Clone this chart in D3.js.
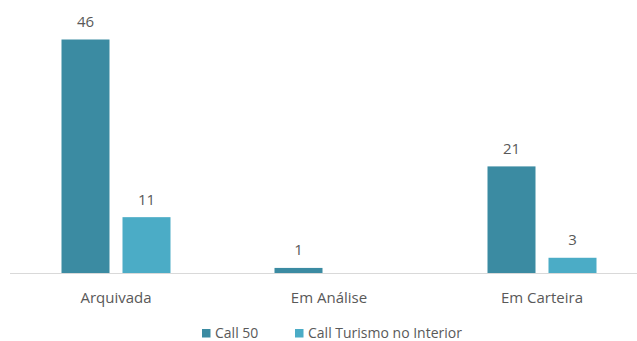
<!DOCTYPE html>
<html lang="pt">
<head>
<meta charset="UTF-8">
<title>Call 50 vs Call Turismo no Interior</title>
<script src="https://d3js.org/d3.v7.min.js"></script>
<style>
  body { margin: 0; background: #fff; }
  svg { display: block; font-family: "Open Sans", sans-serif; }
  .lbl { fill: #595959; }
</style>
</head>
<body>
<svg id="chart" width="637" height="341"></svg>
<script>
const categories = ["Arquivada", "Em Análise", "Em Carteira"];
const seriesNames = ["Call 50", "Call Turismo no Interior"];
const call50 = [46, 1, 21];
const callTurismo = [11, null, 3];
const colors = ["#3B8BA2", "#4BACC6"];

const width = 637, height = 341;
const baseY = 273;
const svg = d3.select("#chart");

// categories: band step 213, first centre at 116
const x0 = d3.scaleBand().domain(categories).range([9.5, 648.5]).padding(0);
const x1 = d3.scaleBand().domain(seriesNames)
    .range([52, 161]).paddingInner(13 / 61).paddingOuter(0);
const y = d3.scaleLinear().domain([0, 46]).range([baseY, 39.5]);

const rows = categories.map((c, i) => ({
    cat: c,
    vals: [call50[i], callTurismo[i]]
}));

const g = svg.selectAll(".grp")
    .data(rows)
    .join("g")
    .attr("class", "grp")
    .attr("transform", d => `translate(${x0(d.cat)},0)`);

const bars = g.selectAll("g.bar")
    .data(d => d.vals.map((v, j) => ({ s: seriesNames[j], v, j })).filter(d => d.v != null))
    .join("g")
    .attr("class", "bar");

bars.append("rect")
    .attr("x", d => x1(d.s))
    .attr("y", d => y(d.v))
    .attr("width", x1.bandwidth())
    .attr("height", d => baseY - y(d.v))
    .attr("fill", d => colors[d.j]);

bars.append("text")
    .attr("class", "lbl")
    .attr("x", d => x1(d.s) + x1.bandwidth() / 2)
    .attr("y", d => y(d.v) - 12.5)
    .attr("text-anchor", "middle")
    .attr("font-size", "15px")
    .text(d => d.v);

// baseline
svg.append("line")
    .attr("x1", 10).attr("x2", 637)
    .attr("y1", baseY + 0.5).attr("y2", baseY + 0.5)
    .attr("stroke", "#d9d9d9").attr("stroke-width", 1);

// category labels
svg.selectAll(".cat")
    .data(categories)
    .join("text")
    .attr("class", "lbl cat")
    .attr("x", d => x0(d) + x0.bandwidth() / 2)
    .attr("y", 303)
    .attr("text-anchor", "middle")
    .attr("font-size", "15px")
    .text(d => d);

// legend
const legendX = [202, 295];
const leg = svg.selectAll(".leg")
    .data(seriesNames)
    .join("g")
    .attr("class", "leg")
    .attr("transform", (d, i) => `translate(${legendX[i]},329)`);
leg.append("rect")
    .attr("width", 8.5).attr("height", 8.5)
    .attr("fill", (d, i) => colors[i]);
leg.append("text")
    .attr("class", "lbl")
    .attr("x", 13)
    .attr("y", 9)
    .attr("font-size", "14px")
    .text(d => d);
</script>
</body>
</html>
